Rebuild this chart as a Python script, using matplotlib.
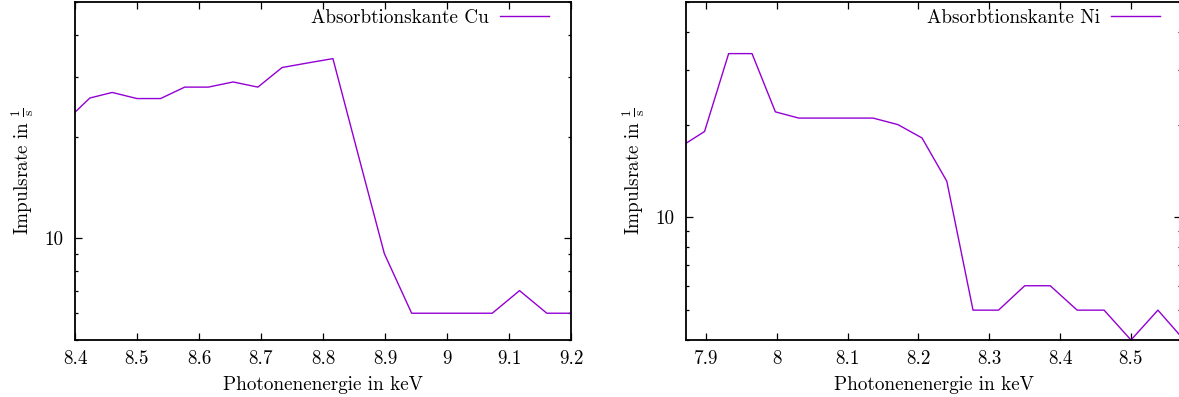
import matplotlib
matplotlib.use("Agg")
import matplotlib.pyplot as plt
from matplotlib.ticker import FixedLocator, LogLocator, NullFormatter, FuncFormatter

plt.rcParams['font.family'] = 'serif'
plt.rcParams['font.serif'] = ['cmr10', 'DejaVu Serif']
plt.rcParams['mathtext.fontset'] = 'cm'
plt.rcParams['axes.formatter.use_mathtext'] = True

# Cu absorption edge (energy in keV, rate in 1/s)
cu_energy = [8.386, 8.424, 8.460, 8.500, 8.538, 8.577, 8.615, 8.655, 8.695, 8.734, 8.775,
             8.816, 8.857, 8.899, 8.943, 8.986, 9.029, 9.073, 9.117, 9.161, 9.206]
cu_rate = [22.3, 26.0, 27.0, 25.9, 25.9, 28.0, 28.0, 29.0, 28.0, 32.0, 33.0,
           34.0, 17.6, 9.0, 6.0, 6.0, 6.0, 6.0, 7.0, 6.0, 6.0]

# Ni absorption edge
ni_energy = [7.865, 7.898, 7.932, 7.965, 7.998, 8.031, 8.066, 8.101, 8.136, 8.171, 8.205,
             8.240, 8.277, 8.313, 8.350, 8.386, 8.424, 8.462, 8.500, 8.538, 8.575]
ni_rate = [17.0, 19.0, 34.0, 34.0, 22.0, 21.0, 21.0, 21.0, 21.0, 20.0, 18.1,
           13.1, 5.0, 5.0, 6.0, 6.0, 5.0, 5.0, 4.0, 5.0, 4.0]

line_color = '#9400D3'
fs = 13.8

fig = plt.figure(figsize=(11.79, 3.97), dpi=100)
ax1 = fig.add_axes([75 / 1179, 57 / 397, 496 / 1179, 338 / 397])
ax2 = fig.add_axes([686 / 1179, 57 / 397, 495 / 1179, 338 / 397])


def style_axis(ax, xlim, ylim, xticks, right_gap):
    ax.set_yscale('log')
    ax.set_xlim(*xlim)
    ax.set_ylim(*ylim)
    ax.xaxis.set_major_locator(FixedLocator(xticks))
    ax.xaxis.set_major_formatter(FuncFormatter(lambda v, p: '%g' % round(v, 2)))
    ax.yaxis.set_major_locator(FixedLocator([10]))
    ax.yaxis.set_major_formatter(FuncFormatter(lambda v, p: '%g' % v))
    ax.yaxis.set_minor_locator(LogLocator(base=10, subs=[2, 3, 4, 5, 6, 7, 8, 9]))
    ax.yaxis.set_minor_formatter(NullFormatter())
    ax.tick_params(which='both', direction='in', top=True, right=True, labelsize=fs)
    ax.tick_params(which='major', length=5, width=0.9)
    ax.tick_params(which='minor', length=2.5, width=0.9)
    ax.tick_params(axis='x', pad=7)
    ax.tick_params(axis='y', pad=8)
    for s in ax.spines.values():
        s.set_linewidth(1.3)
    ax.set_xlabel('Photonenenergie in keV', fontsize=fs, labelpad=6)
    ax.set_ylabel(r'Impulsrate in $\frac{1}{\mathrm{s}}$', fontsize=fs, labelpad=6)
    ax.legend(loc='upper right', frameon=False, markerfirst=False, fontsize=fs,
              handlelength=2.55, handletextpad=0.6, borderpad=0, borderaxespad=0,
              bbox_to_anchor=(1 - right_gap, 0.98))


ax1.plot(cu_energy, cu_rate, color=line_color, lw=1.0, label='Absorbtionskante Cu')
style_axis(ax1, (8.4, 9.2), (5, 50), [8.4, 8.5, 8.6, 8.7, 8.8, 8.9, 9.0, 9.1, 9.2], 22 / 496)

ax2.plot(ni_energy, ni_rate, color=line_color, lw=1.0, label='Absorbtionskante Ni')
style_axis(ax2, (7.8718, 8.5706), (4, 50), [7.9, 8.0, 8.1, 8.2, 8.3, 8.4, 8.5], 21 / 495)

fig.savefig('out.png', dpi=100)
